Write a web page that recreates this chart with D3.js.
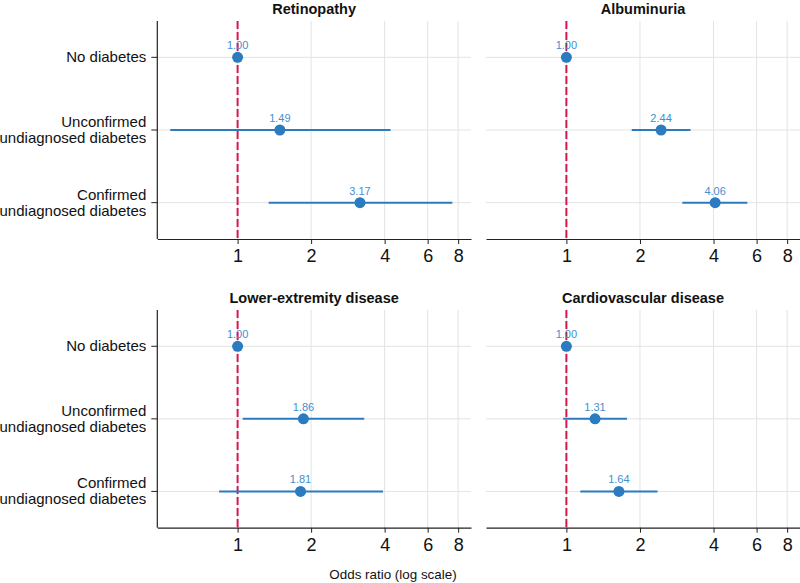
<!DOCTYPE html>
<html><head><meta charset="utf-8">
<script src="https://cdn.jsdelivr.net/npm/d3@7"></script>
<style>body{margin:0;background:#fff}svg{display:block;font-family:"Liberation Sans",Arial,sans-serif}</style>
</head><body><svg id="c" width="800" height="583"></svg>
<script>
const groups = ["No diabetes", "Unconfirmed\nundiagnosed diabetes", "Confirmed\nundiagnosed diabetes"];
const outcomes = ["Retinopathy", "Albuminuria", "Lower-extremity disease", "Cardiovascular disease"];
const orValues = [
  [1.00, 1.49, 3.17],
  [1.00, 2.44, 4.06],
  [1.00, 1.86, 1.81],
  [1.00, 1.31, 1.64]
];
const ciLower = [
  [null, 0.53, 1.34],
  [null, 1.85, 2.98],
  [null, 1.05, 0.84],
  [null, 0.97, 1.14]
];
const ciUpper = [
  [null, 4.23, 7.57],
  [null, 3.22, 5.50],
  [null, 3.30, 3.94],
  [null, 1.77, 2.36]
];
const xTicks = [1, 2, 4, 6, 8];
const xDomain = [0.469, 9.03];
const xTitle = "Odds ratio (log scale)";

const svg = d3.select("#c");
const panels = [
  {x0:157.3, x1:471, y0:21, y1:239},
  {x0:486, x1:800, y0:21, y1:239},
  {x0:157.3, x1:471, y0:310, y1:527.7},
  {x0:486, x1:800, y0:310, y1:527.7}
];
const ptColor = "#2a7bbf", lblColor = "#3f8fd2", refColor = "#d6184c";

panels.forEach((p, i) => {
  const x = d3.scaleLog().domain(xDomain).range([p.x0, p.x1]);
  const y = d3.scalePoint().domain(groups).range([p.y0, p.y1]).padding(0.5);
  const g = svg.append("g");
  // grid
  g.selectAll(".gv").data(xTicks).join("line")
    .attr("x1", d => x(d)).attr("x2", d => x(d)).attr("y1", p.y0).attr("y2", p.y1)
    .attr("stroke", "#e3e3e3").attr("stroke-width", 1);
  g.selectAll(".gh").data(groups).join("line")
    .attr("x1", p.x0).attr("x2", p.x1).attr("y1", d => y(d)).attr("y2", d => y(d))
    .attr("stroke", "#e3e3e3").attr("stroke-width", 1);
  // reference line
  g.append("line").attr("x1", x(1)).attr("x2", x(1)).attr("y1", p.y0).attr("y2", p.y1)
    .attr("stroke", refColor).attr("stroke-width", 2).attr("stroke-dasharray", "8,3");
  // x axis
  const xa = g.append("g").attr("transform", `translate(0,${p.y1})`)
    .call(d3.axisBottom(x).tickValues(xTicks).tickFormat(d3.format("d")).tickSize(5).tickSizeOuter(0));
  xa.select(".domain").attr("stroke", "#222").attr("stroke-width", 1.2);
  xa.selectAll(".tick line").attr("stroke", "#222");
  xa.selectAll(".tick text").attr("font-size", 18).attr("fill", "#111").attr("dy", "0.85em")
    .attr("font-family", "Liberation Sans, Arial, sans-serif");
  // y axis (left panels only)
  if (i % 2 === 0) {
    g.append("line").attr("x1", p.x0).attr("x2", p.x0).attr("y1", p.y0).attr("y2", p.y1)
      .attr("stroke", "#222").attr("stroke-width", 1.2);
    groups.forEach(gr => {
      g.append("line").attr("x1", p.x0 - 6).attr("x2", p.x0).attr("y1", y(gr)).attr("y2", y(gr))
        .attr("stroke", "#222");
      const lines = gr.split("\n");
      const t = g.append("text").attr("text-anchor", "end").attr("font-size", 15).attr("fill", "#111");
      lines.forEach((ln, k) => {
        t.append("tspan").attr("x", p.x0 - 11)
          .attr("y", y(gr) + 5 + (k - (lines.length - 1) / 2) * 16).text(ln);
      });
    });
  }
  // title
  g.append("text").attr("x", (p.x0 + p.x1) / 2).attr("y", p.y0 - 7).attr("text-anchor", "middle")
    .attr("font-size", 14.5).attr("font-weight", "bold").attr("fill", "#111").text(outcomes[i]);
  // CIs
  groups.forEach((gr, k) => {
    if (ciLower[i][k] != null) {
      g.append("line").attr("x1", x(ciLower[i][k])).attr("x2", x(ciUpper[i][k]))
        .attr("y1", y(gr)).attr("y2", y(gr)).attr("stroke", ptColor).attr("stroke-width", 2);
    }
    g.append("circle").attr("cx", x(orValues[i][k])).attr("cy", y(gr)).attr("r", 5.5).attr("fill", ptColor);
    g.append("text").attr("x", x(orValues[i][k])).attr("y", y(gr) - 8).attr("text-anchor", "middle")
      .attr("font-size", 11).attr("fill", lblColor).text(orValues[i][k].toFixed(2));
  });
});
svg.append("text").attr("x", 393).attr("y", 579).attr("text-anchor", "middle")
  .attr("font-size", 13.4).attr("fill", "#111").text(xTitle);
</script></body></html>
